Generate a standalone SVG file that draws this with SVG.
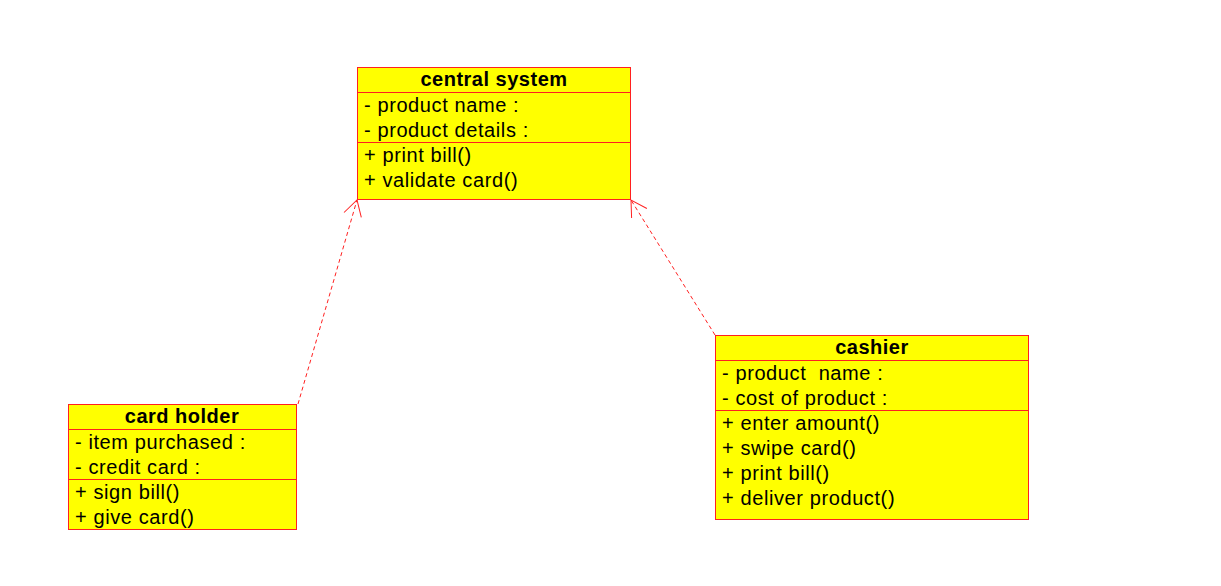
<svg xmlns="http://www.w3.org/2000/svg" width="1221" height="586" viewBox="0 0 1221 586">
<style>
.box{fill:#ffff00;stroke:#ff2020;stroke-width:1}
.sep{stroke:#ff2020;stroke-width:1}
text{font-family:"Liberation Sans",Arial,sans-serif;font-size:20px;letter-spacing:0.6px;fill:#000;white-space:pre}
.t{font-weight:bold;text-anchor:middle;letter-spacing:0.5px}
.c{stroke:#ff2020;stroke-width:1;stroke-dasharray:4 3;fill:none}
</style>
<defs>
<marker id="open" markerUnits="userSpaceOnUse" markerWidth="40" markerHeight="40" refX="0" refY="0" viewBox="-20 -20 40 40" orient="auto" overflow="visible">
<path d="M -15.6 -9 L 0 0 L -15.6 9" fill="none" stroke="#ff2020" stroke-width="1"/>
</marker>
</defs>
<rect width="1221" height="586" fill="#fff"/>
<g id="connectors">
<line class="c" x1="298" y1="404" x2="357" y2="200" marker-end="url(#open)"/>
<line class="c" x1="715" y1="335" x2="631" y2="200" marker-end="url(#open)"/>
</g>
<g id="central-system">
<rect class="box" x="357.5" y="67.5" width="273" height="132"/>
<line class="sep" x1="357.5" y1="92.5" x2="630.5" y2="92.5"/>
<line class="sep" x1="357.5" y1="142.5" x2="630.5" y2="142.5"/>
<text class="t" x="494" y="86">central system</text>
<text x="364" y="112">- product name :</text>
<text x="364" y="137">- product details :</text>
<text x="364" y="162">+ print bill()</text>
<text x="364" y="187">+ validate card()</text>
</g>
<g id="card-holder">
<rect class="box" x="68.5" y="404.5" width="228" height="125"/>
<line class="sep" x1="68.5" y1="429.5" x2="296.5" y2="429.5"/>
<line class="sep" x1="68.5" y1="479.5" x2="296.5" y2="479.5"/>
<text class="t" x="182" y="423">card holder</text>
<text x="75" y="449">- item purchased :</text>
<text x="75" y="474">- credit card :</text>
<text x="75" y="499">+ sign bill()</text>
<text x="75" y="524">+ give card()</text>
</g>
<g id="cashier">
<rect class="box" x="715.5" y="335.5" width="313" height="184"/>
<line class="sep" x1="715.5" y1="360.5" x2="1028.5" y2="360.5"/>
<line class="sep" x1="715.5" y1="410.5" x2="1028.5" y2="410.5"/>
<text class="t" x="872" y="354">cashier</text>
<text x="722" y="380">- product  name :</text>
<text x="722" y="405">- cost of product :</text>
<text x="722" y="430">+ enter amount()</text>
<text x="722" y="455">+ swipe card()</text>
<text x="722" y="480">+ print bill()</text>
<text x="722" y="505">+ deliver product()</text>
</g>
</svg>
